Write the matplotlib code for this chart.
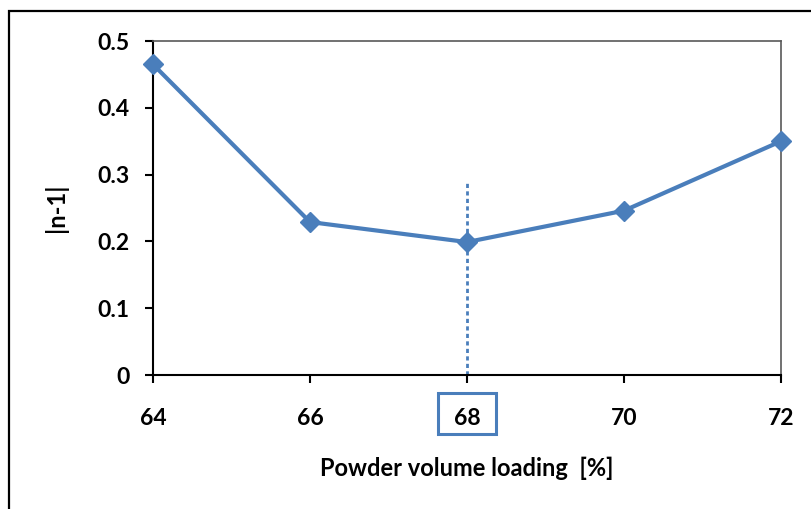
import matplotlib
matplotlib.use("Agg")
import matplotlib.pyplot as plt
from matplotlib.patches import Rectangle
from matplotlib.transforms import blended_transform_factory

loading = [64, 66, 68, 70, 72]
n_dev = [0.465, 0.229, 0.199, 0.246, 0.350]
x_ticks = [64, 66, 68, 70, 72]
y_ticks = [0, 0.1, 0.2, 0.3, 0.4, 0.5]
y_tick_labels = ["0", "0.1", "0.2", "0.3", "0.4", "0.5"]
marker_x = 68
marker_top = 0.29

blue = "#4A7EBB"
plt.rcParams['font.family'] = ['Lato', 'DejaVu Sans']
plt.rcParams['font.weight'] = 'bold'

fig = plt.figure(figsize=(8.12, 5.09), dpi=100)
ax = fig.add_axes([153/812, 1-375/509, (781-153)/812, (375-41)/509])

ax.plot(loading, n_dev, color=blue, lw=3, marker='D', ms=10, clip_on=False, zorder=3)
ax.plot([marker_x, marker_x], [0, marker_top], color=blue, lw=2, ls=(0, (1.5, 1.2)), zorder=2)

ax.set_xlim(64, 72)
ax.set_ylim(0, 0.5)
ax.set_xticks(x_ticks)
ax.set_xticklabels([str(v) for v in x_ticks], fontweight='bold')
ax.set_yticks(y_ticks)
ax.set_yticklabels(y_tick_labels, fontweight='bold')

for s in ['top', 'right']:
    ax.spines[s].set_color('#595959')
    ax.spines[s].set_linewidth(1.2)
for s in ['left', 'bottom']:
    ax.spines[s].set_color('black')
    ax.spines[s].set_linewidth(1.5)

ax.tick_params(axis='both', direction='out', length=6, width=1.5, labelsize=16.5)
ax.tick_params(axis='x', pad=18)
ax.tick_params(axis='y', pad=11)

# highlight box around the 68 tick label
tr = blended_transform_factory(ax.transData, fig.transFigure)
fig.add_artist(Rectangle((marker_x - 0.37, 1 - 434/509), 0.74, 41/509, transform=tr,
                         fill=False, edgecolor=blue, linewidth=2.2, clip_on=False))

ax.set_xlabel("Powder volume loading  [%]", fontsize=17, fontweight='bold', labelpad=20)
ax.set_ylabel("|n-1|", fontsize=17, fontweight='bold', labelpad=21)

fig.add_artist(Rectangle((9.5/812, -0.1), 2, 1.1 - 11/509, transform=fig.transFigure,
                         fill=False, edgecolor='black', linewidth=1.6))

fig.savefig("out.png", dpi=100)
